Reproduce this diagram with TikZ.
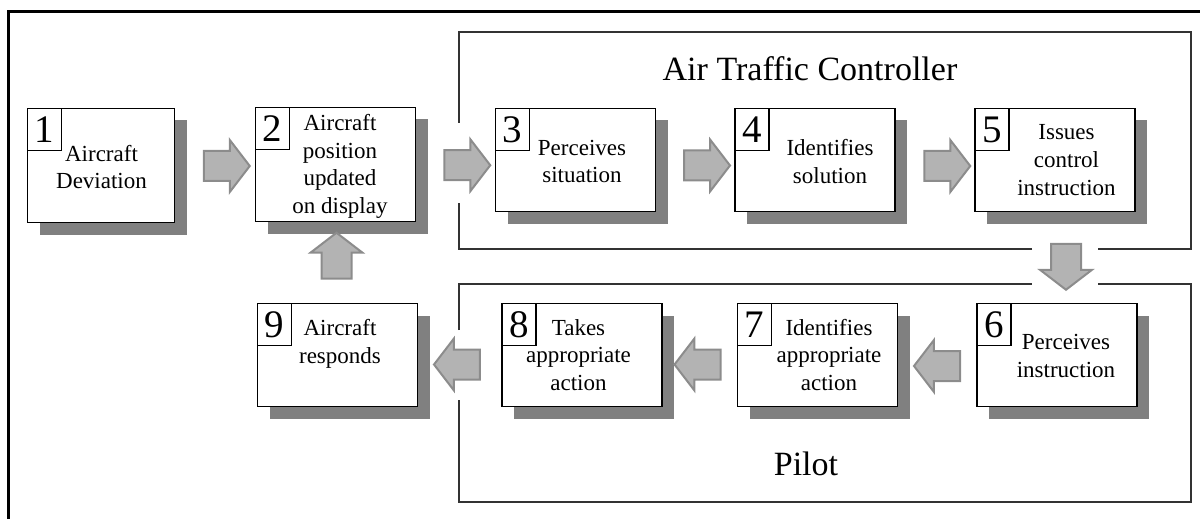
\documentclass[tikz,border=0pt]{standalone}
\usepackage{fontspec}
\setmainfont{Liberation Serif}
\usetikzlibrary{shapes.arrows,shadows,calc}
\definecolor{shadowgray}{HTML}{808080}
\definecolor{arrowfill}{HTML}{B3B3B3}
\definecolor{arrowdraw}{HTML}{8C8C8C}
\definecolor{framegray}{HTML}{333333}

\begin{document}
\begin{tikzpicture}[x=0.5pt, y=-0.5pt, line width=0.75pt,
  stage/.style={draw, fill=white, minimum width=80pt, minimum height=51.5pt, inner sep=0pt,
    drop shadow={shadow xshift=6pt, shadow yshift=-6pt, fill=shadowgray, opacity=1}},
  num/.style={draw, anchor=north west, minimum width=17pt, minimum height=21pt, inner sep=0pt, font=\fontsize{19.5}{20}\selectfont},
  txt/.style={align=center, inner sep=0pt, font=\fontsize{11.5}{13.8}\selectfont},
  flow/.style={single arrow, fill=arrowfill, draw=arrowdraw, line width=1pt, inner xsep=0pt, inner ysep=7pt,
    minimum height=23pt, single arrow head extend=5.5pt, single arrow tip angle=105},
  title/.style={inner sep=0pt, font=\fontsize{17}{20}\selectfont}]
\useasboundingbox (0,0) rectangle (1200,519);
% frames
\draw[line width=1.5pt] (8,521) |- (1202,12);
\draw[framegray] (459,123) |- (1191,32) |- (1098,249);
\draw[framegray] (1032,249) -| (459,203);
\draw[framegray] (459,330) |- (1032,284);
\draw[framegray] (1098,284) -| (1191,502) -| (459,400);
\node[title] (atc) at (810,68.6) {Air Traffic Controller};
\node[title] (pilot) at (806,463.6) {Pilot};
% stages
\node[stage, minimum width=73.5pt, minimum height=57pt] (b1) at (101,165.5) {};
\node[stage, minimum height=57pt] (b2) at (335.5,164.5) {};
\node[stage] (b3) at (575.5,160) {};
\node[stage] (b4) at (815,160) {};
\node[stage] (b5) at (1055,160) {};
\node[stage] (b6) at (1057,355) {};
\node[stage] (b7) at (817.5,355) {};
\node[stage] (b8) at (582,355) {};
\node[stage] (b9) at (337.5,355) {};
\foreach \i in {1,...,9} \node[num] (n\i) at (b\i.north west) {\i};
\node[txt] (t1) at (101.5,167) {Aircraft\\Deviation};
\node[txt] (t2) at (340,166.5) {Aircraft\\position\\updated\\on display};
\node[txt] (t3) at (582,161.4) {Perceives\\situation};
\node[txt] (t4) at (830,161.4) {Identifies\\solution};
\node[txt] (t5) at (1066.5,160) {Issues\\control\\instruction};
\node[txt] (t6) at (1066,356) {Perceives\\instruction};
\node[txt] (t7) at (829,355) {Identifies\\appropriate\\action};
\node[txt] (t8) at (578.5,355) {Takes\\appropriate\\action};
\node[txt] (t9) at (340,344) {Aircraft\\responds};
% block arrows
\node[flow] (a12) at ($(b1.east)!.5!(b2.west)+(6,1)$) {};
\node[flow] (a23) at ($(b2.east)!.5!(b3.west)+(6,3)$) {};
\node[flow] (a34) at ($(b3.east)!.5!(b4.west)+(6,5.5)$) {};
\node[flow] (a45) at ($(b4.east)!.5!(b5.west)+(6.5,6)$) {};
\node[flow, rotate=-90] (a56) at ($(b5.south)!.5!(b6.north)+(10,3.5)$) {};
\node[flow, rotate=180] (a67) at ($(b6.west)!.5!(b7.east)+(5.5,11)$) {};
\node[flow, rotate=180] (a78) at ($(b7.west)!.5!(b8.east)+(3.5,9.5)$) {};
\node[flow, rotate=180] (a89) at ($(b8.west)!.5!(b9.east)+(3,9.5)$) {};
\node[flow, rotate=90] (a92) at ($(b9.north)!.5!(b2.south)+(0,-1)$) {};
\end{tikzpicture}
\end{document}
